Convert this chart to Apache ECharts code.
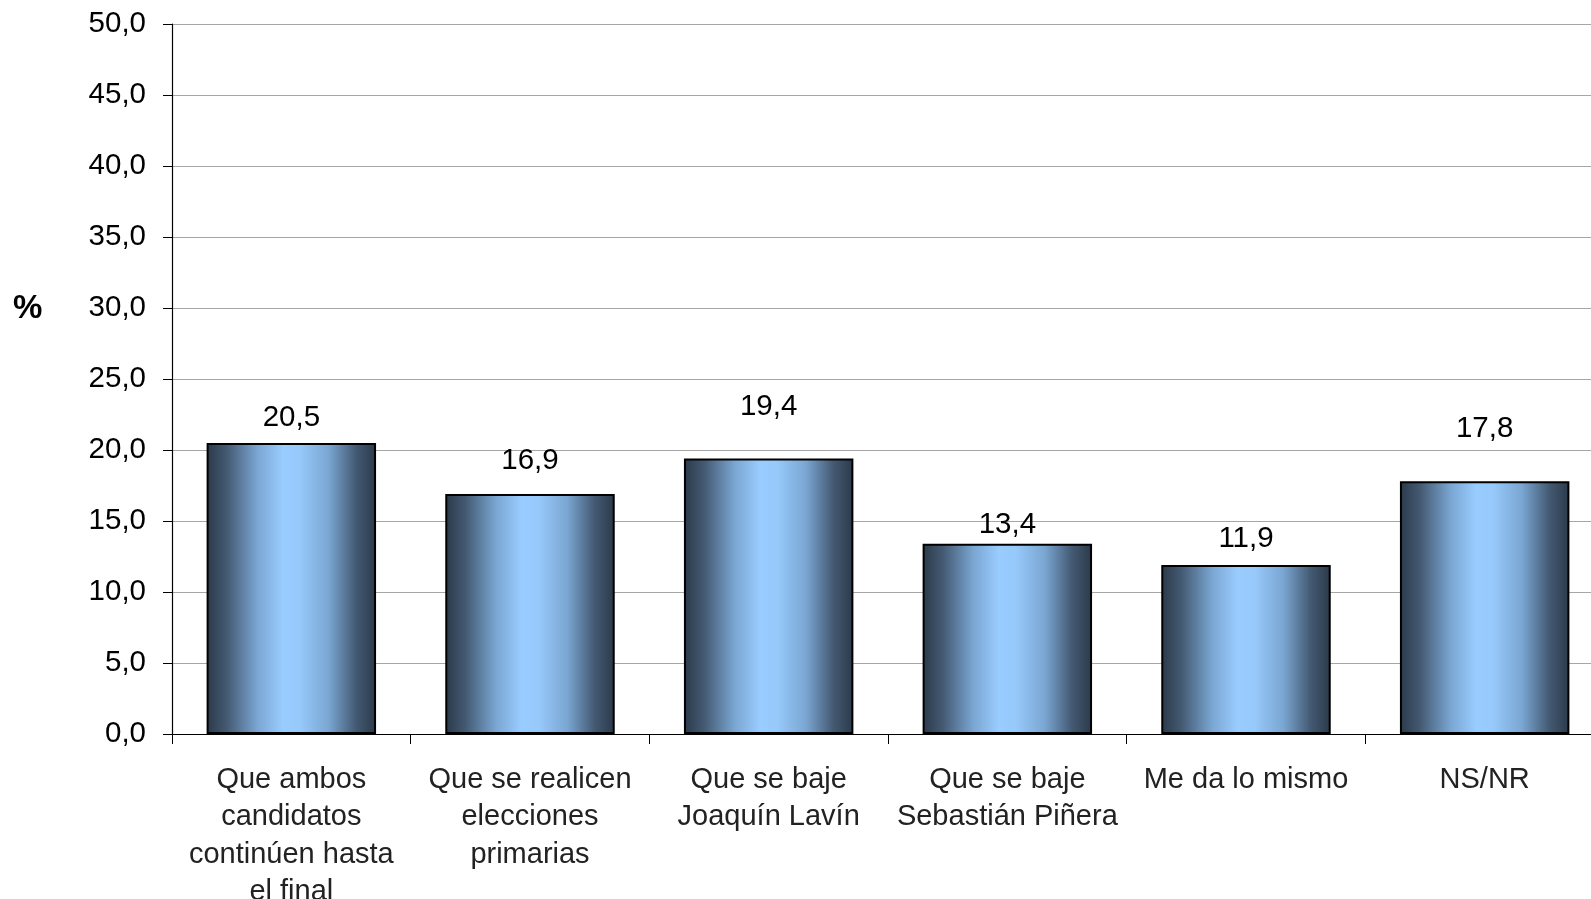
<!DOCTYPE html>
<html>
<head>
<meta charset="utf-8">
<script src="https://cdn.jsdelivr.net/npm/echarts@6/dist/echarts.min.js"></script>
<style>
html,body{margin:0;padding:0;background:#fff;}
#c{width:1591px;height:899px;}
</style>
</head>
<body>
<div id="c"></div>
<script>
const categories = [
  "Que ambos\ncandidatos\ncontinúen hasta\nel final",
  "Que se realicen\nelecciones\nprimarias",
  "Que se baje\nJoaquín Lavín",
  "Que se baje\nSebastián Piñera",
  "Me da lo mismo",
  "NS/NR"
];
const values = [20.5, 16.9, 19.4, 13.4, 11.9, 17.8];
const yTicks = [0, 5, 10, 15, 20, 25, 30, 35, 40, 45, 50];

// label vertical gaps above bars, as in the original layout (style only)
const labelDistances = [10, 18, 37, 4, 11, 37];

const fmt = v => v.toFixed(1).replace('.', ',');

const barGradient = new echarts.graphic.LinearGradient(0, 0, 1, 0, [
  {offset: 0, color: '#2b3949'},
  {offset: 0.12, color: '#445a73'},
  {offset: 0.3, color: '#7aa6d2'},
  {offset: 0.45, color: '#99ccff'},
  {offset: 0.55, color: '#97c9fb'},
  {offset: 0.72, color: '#7aa6d2'},
  {offset: 0.88, color: '#445a73'},
  {offset: 1, color: '#2b3949'}
]);

const FONT = 'Liberation Sans, Arial, sans-serif';

const chart = echarts.init(document.getElementById('c'), null, {renderer: 'canvas'});
chart.setOption({
  animation: false,
  backgroundColor: '#ffffff',
  grid: {left: 172, top: 24, bottom: 165, right: -13, containLabel: false, outerBoundsMode: 'none'},
  xAxis: {
    type: 'category',
    data: categories,
    axisLine: {lineStyle: {color: '#000', width: 1.2}},
    axisTick: {show: true, alignWithLabel: false, length: 10, lineStyle: {color: '#000'}},
    axisLabel: {
      interval: 0, margin: 27, color: '#222',
      fontFamily: FONT, fontSize: 29, lineHeight: 37.5
    }
  },
  yAxis: {
    type: 'value', min: 0, max: 50, interval: 5,
    axisLine: {show: true, lineStyle: {color: '#000', width: 1.2}},
    axisTick: {show: true, length: 9, lineStyle: {color: '#000'}},
    axisLabel: {
      margin: 26, color: '#000',
      fontFamily: FONT, fontSize: 29.5,
      formatter: v => yTicks.includes(v) ? fmt(v) : ''
    },
    splitLine: {show: true, lineStyle: {color: '#a6a6a6', width: 1.2}}
  },
  graphic: [{
    type: 'text', left: 13, top: 292,
    style: {text: '%', fontFamily: FONT, fontSize: 33, fontWeight: 'bold', fill: '#000'}
  }],
  series: [{
    type: 'bar',
    barWidth: '71%',
    data: values.map((v, i) => ({
      value: v,
      label: {distance: labelDistances[i]}
    })),
    itemStyle: {color: barGradient, borderColor: '#000', borderWidth: 2},
    label: {
      show: true, position: 'top', color: '#000',
      fontFamily: FONT, fontSize: 29.5,
      formatter: p => fmt(p.value)
    }
  }]
});
</script>
</body>
</html>
